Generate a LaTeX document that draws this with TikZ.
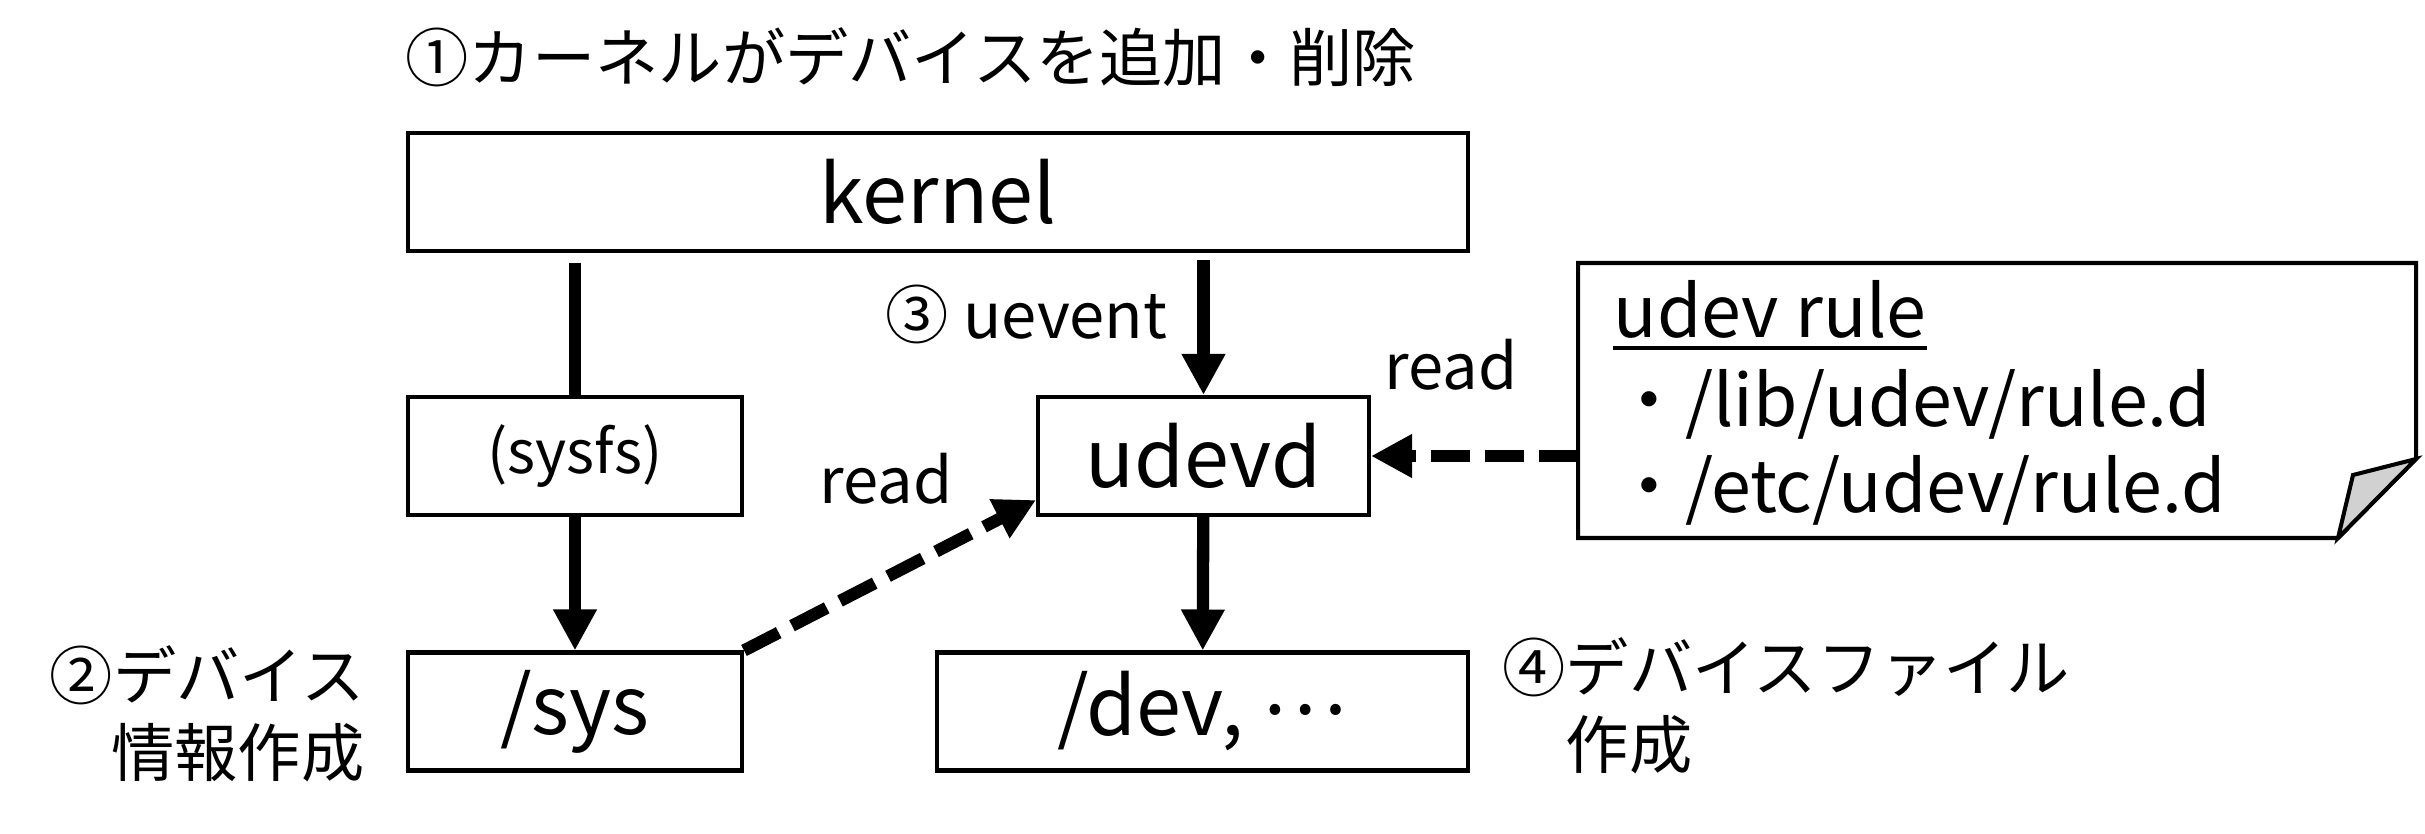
\documentclass[tikz,border=0pt]{standalone}
\usepackage{fontspec}
\setmainfont{Noto Sans CJK JP}
\usetikzlibrary{arrows.meta}

\begin{document}
\begin{tikzpicture}[x=0.1mm,y=-0.1mm,
	box/.style={draw, line width=1.15pt, minimum height=11.8mm, inner sep=0pt,
		font=\fontsize{23}{27}\selectfont},
	flow/.style={line width=3.5pt, -{Triangle[width=4.1mm,length=4.1mm]}},
	rd/.style={flow, dash pattern=on 3.9mm off 1.5mm},
	lbl/.style={inner sep=0pt, font=\fontsize{18}{22}\selectfont},
	ruletxt/.style={inner sep=0pt, anchor=base west, font=\fontsize{20.4}{24}\selectfont}]
	\useasboundingbox (0,0) rectangle (2425,834);
	% boxes
	\node[box, minimum width=106mm] (kernel) at (938,192) {kernel};
	\node[box, minimum width=33.4mm, font=\fontsize{17}{20}\selectfont] (sysfs) at (575,456) {(sysfs)};
	\node[box, minimum width=33.4mm] (sys) at (575,711.5) {/sys};
	\node[box, minimum width=33.1mm] (udevd) at (1203.5,456) {udevd};
	\node[box, minimum width=53.1mm] (dev) at (1202.5,711.5) {/dev, \raisebox{0.27em}{…}};
	% udev rule note
	\node[minimum width=83.8mm, minimum height=27.5mm, outer sep=0pt] (note) at (1997,400.5) {};
	\draw[line width=1.15pt] (note.north west) -- (note.north east) -- ([yshift=7.9mm]note.south east)
		-- ([xshift=-7.8mm]note.south east) -- (note.south west) -- cycle;
	\draw[line width=1.15pt, fill=black!18] ([xshift=-7.8mm]note.south east) -- ([xshift=-6.3mm,yshift=6.3mm]note.south east)
		-- ([yshift=7.9mm]note.south east) -- cycle;
	\node[ruletxt] (rulehead) at (1613,338) {udev rule};
	\draw[line width=1.1pt] ([yshift=-1mm]rulehead.base west) -- ([yshift=-1mm]rulehead.base east);
	\node[ruletxt] (rulelib) at (1613,427) {・/lib/udev/rule.d};
	\node[ruletxt] (ruleetc) at (1613,513) {・/etc/udev/rule.d};
	% labels
	\node[lbl, anchor=west] (step1) at (405,57) {①カーネルがデバイスを追加・削除};
	\node[lbl, anchor=east, align=right] (step2) at (365,714) {②デバイス\\情報作成};
	\node[lbl, anchor=east] (step3) at (1168,314) {③ uevent};
	\node[lbl, anchor=west, align=left] (step4) at (1502,706) {④デバイスファイル\\　作成};
	\node[lbl] (readsys) at (886,479) {read};
	\node[lbl] (readrule) at (1451,365) {read};
	% connectors
	\draw[line width=3.5pt, shorten <=1mm] (kernel.south -| sysfs.north) -- (sysfs.north);
	\draw[flow] (sysfs) -- (sys);
	\draw[flow, shorten <=0.7mm] (kernel.south -| udevd.north) -- (udevd);
	\draw[flow] (udevd) -- (dev);
	\draw[rd] (sys.north east) -- ([yshift=1.7mm]udevd.south west);
	\draw[rd] (note.west |- udevd.east) -- (udevd.east);
\end{tikzpicture}
\end{document}
